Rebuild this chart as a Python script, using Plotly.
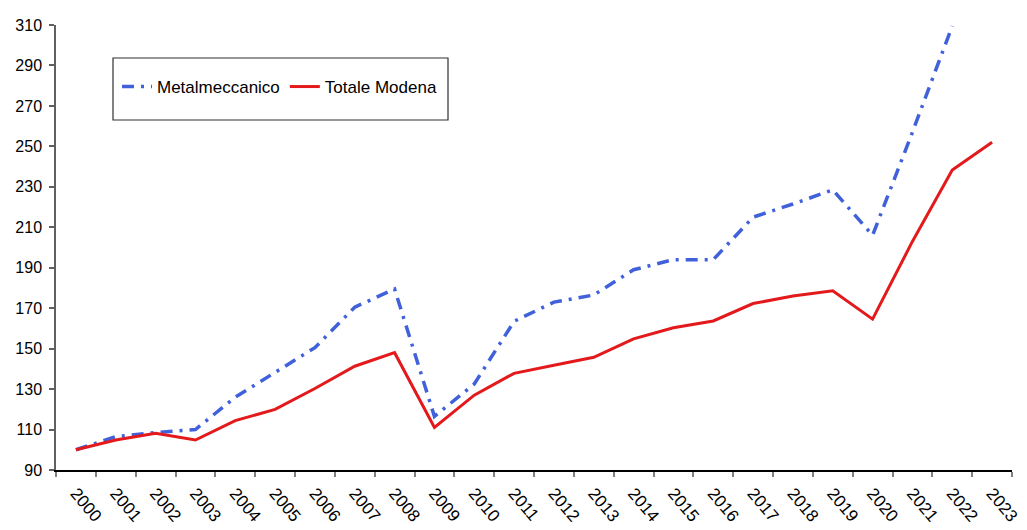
import plotly.graph_objects as go

years = [str(y) for y in range(2000, 2024)]
metalmeccanico = [100, 106.5, 108.5, 110, 126, 138, 150.5, 170.5, 179.5, 116.5, 132.5, 163.5,
                  173, 176.5, 189, 194, 194, 215, 221.5, 228.5, 206, 257, 309.5, None]
totale_modena = [100, 104.8, 108.2, 104.8, 114.4, 120, 130.3, 141.3, 148, 111, 127, 137.8,
                 141.8, 145.7, 154.8, 160.3, 163.7, 172.3, 176, 178.6, 164.6, 203, 238.3, 252]
y_ticks = list(range(90, 311, 20))

FONT = "Liberation Sans, Arial, sans-serif"

fig = go.Figure()
fig.add_trace(go.Scatter(x=years, y=metalmeccanico, name="Metalmeccanico", mode="lines",
                         line=dict(color="#4161DB", width=3.5, dash="12px,7px,3px,7px"),
                         connectgaps=False))
fig.add_trace(go.Scatter(x=years, y=totale_modena, name="Totale Modena", mode="lines",
                         line=dict(color="#E3191B", width=3)))

L, R, T, B = 56, 15, 25, 60
W, H = 1027, 530
pw, ph = W - L - R, H - T - B

def px_x(x):
    return (x - L) / pw

def px_y(y):
    return (H - B - y) / ph

fig.add_shape(type="rect", xref="paper", yref="paper",
              x0=px_x(113), x1=px_x(448), y0=px_y(120), y1=px_y(58),
              line=dict(color="#303030", width=1.2), fillcolor="white", layer="below")

fig.update_layout(
    width=W, height=H,
    margin=dict(l=L, r=R, t=T, b=B, autoexpand=False),
    paper_bgcolor="white", plot_bgcolor="white",
    font=dict(family=FONT, size=16, color="black"),
    showlegend=True,
    legend=dict(orientation="h", x=px_x(117), y=px_y(87), xanchor="left", yanchor="middle",
                bgcolor="rgba(0,0,0,0)", borderwidth=0, font=dict(size=17),
                itemwidth=30),
    xaxis=dict(type="category", range=[-0.5, 23.5], tickangle=50, showline=True,
               linecolor="black", linewidth=1.5, ticks="outside", ticklen=5,
               tickcolor="#808080", tickwidth=1.5, tickson="boundaries",
               showgrid=False, zeroline=False, tickfont=dict(size=17), automargin=False,
               ticklabelstandoff=5),
    yaxis=dict(range=[90, 310], tickvals=y_ticks, showline=True, linecolor="#606060",
               linewidth=1.5, ticks="outside", ticklen=5, tickcolor="#606060",
               tickwidth=1.5, showgrid=False, zeroline=False, tickfont=dict(size=16),
               ticklabelstandoff=4, automargin=False),
)

fig.write_html("out.html", config={"displayModeBar": False},
               post_script="document.body.style.margin='0px';document.body.style.overflow='hidden';")
